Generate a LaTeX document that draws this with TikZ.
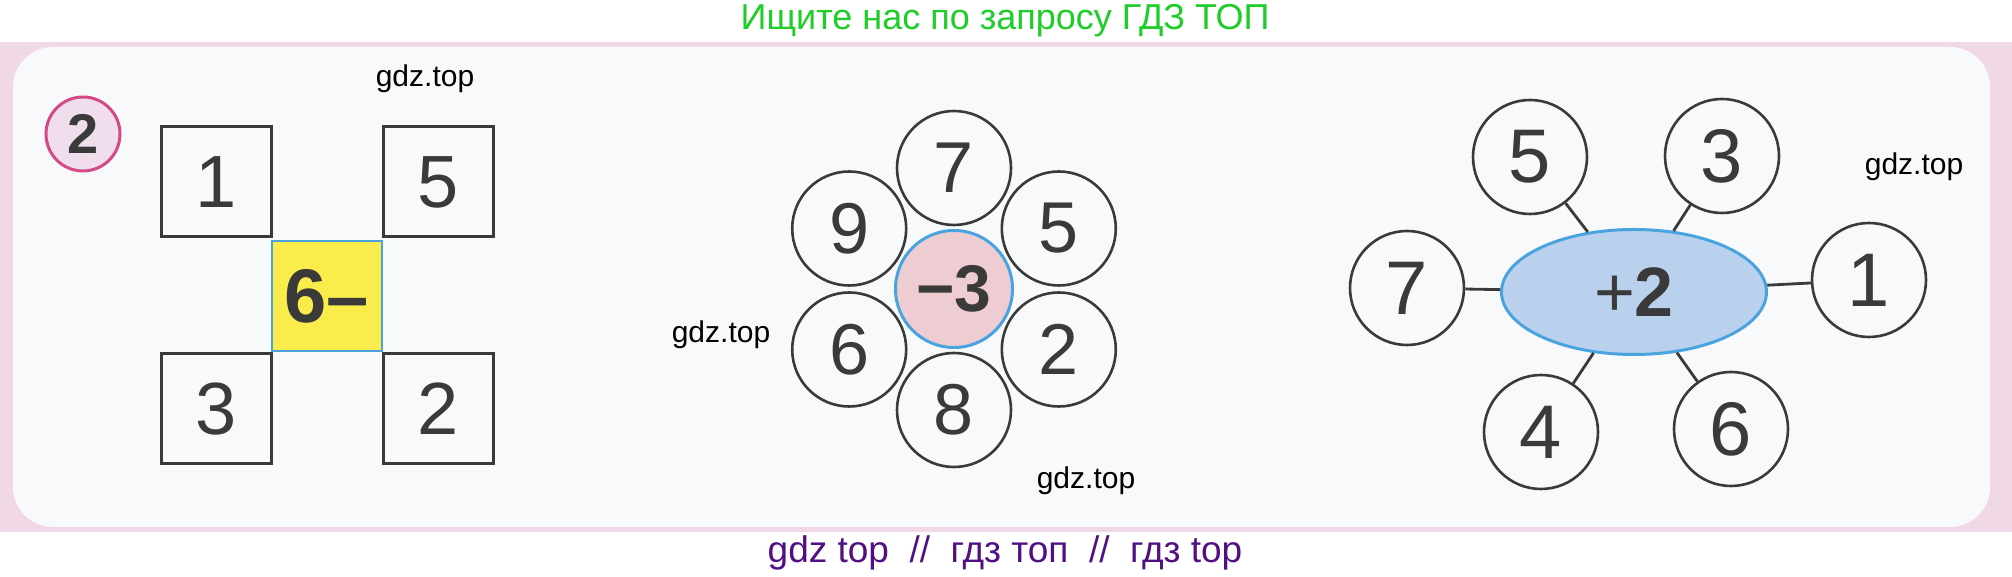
\documentclass[tikz,border=0pt]{standalone}
\usepackage{fontspec}
\setmainfont{Liberation Sans}
\usetikzlibrary{positioning,shapes.geometric}

\definecolor{inkgray}{RGB}{58,58,58}
\definecolor{framepink}{RGB}{241,216,231}
\definecolor{paper}{RGB}{247,249,251}
\definecolor{titlegreen}{RGB}{30,205,40}
\definecolor{footpurple}{RGB}{80,15,130}
\definecolor{edgeblue}{RGB}{74,163,223}
\definecolor{markpink}{RGB}{212,74,134}
\definecolor{markfill}{RGB}{240,222,236}
\definecolor{boxyellow}{RGB}{250,236,75}
\definecolor{centrepink}{RGB}{238,205,210}
\definecolor{ovalblue}{RGB}{186,209,238}

\tikzset{
  numbox/.style={draw=inkgray, line width=3pt, minimum size=110pt, inner sep=0pt, outer sep=0pt,
    text=inkgray, font=\fontsize{74}{74}\selectfont},
  petal/.style={circle, draw=inkgray, line width=2.6pt, minimum size=114pt, inner sep=0pt,
    text=inkgray, font=\fontsize{72}{72}\selectfont},
  ray/.style={inkgray, line width=2.8pt},
  wmark/.style={text=black, font=\fontsize{30}{30}\selectfont},
}

\begin{document}
\begin{tikzpicture}[x=1pt,y=1pt]
  \useasboundingbox (0,0) rectangle (2012,577);
  \fill[framepink] (0,45) rectangle (2012,535);
  \fill[paper, rounded corners=40pt] (13,50) rectangle (1990,530);

  \node[text=titlegreen, font=\fontsize{36}{36}\selectfont, anchor=base] (title) at (1005,547)
    {Ищите нас по запросу ГДЗ ТОП};
  \node[text=footpurple, font=\fontsize{37}{37}\selectfont, anchor=base] (foot) at (1005,14)
    {gdz top \ //\ \ гдз топ \ //\ \ гдз top};

  % squares
  \node[circle, draw=markpink, fill=markfill, line width=3pt, minimum size=74pt, inner sep=0pt,
    text=inkgray, font=\bfseries\fontsize{56}{56}\selectfont] (task) at (83,443) {2};
  \node[numbox, fill=boxyellow, draw=edgeblue, line width=2.5pt,
    font=\bfseries\fontsize{76}{76}\selectfont] (sub) at (327,281) {6–};
  \node[numbox, above left=4pt and 1pt of sub] (b1) {1};
  \node[numbox, above right=4pt and 1pt of sub] (b5) {5};
  \node[numbox, below left=3pt and 1pt of sub] (b3) {3};
  \node[numbox, below right=3pt and 1pt of sub] (b2) {2};

  % flower
  \node[circle, draw=edgeblue, fill=centrepink, line width=3pt, minimum size=117pt, inner sep=0pt,
    text=inkgray, font=\bfseries\fontsize{66}{66}\selectfont] (minus) at (954,288) {−3};
  \foreach \ang/\val in {90/7,30/5,330/2,270/8,210/6,150/9}
    \path (minus) ++(\ang:121) node[petal] (f\val) {\val};

  % oval
  \node[ellipse, draw=edgeblue, fill=ovalblue, line width=3pt, minimum width=265pt, minimum height=125pt,
    inner sep=0pt, text=inkgray, font=\fontsize{70}{70}\selectfont] (plus) at (1634,285) {+\textbf{2}};
  \foreach \x/\y/\val in {1530/420/5,1722/421/3,1407/289/7,1869/297/1,1541/145/4,1731/148/6}
    \node[petal, font=\fontsize{76}{76}\selectfont] (r\val) at (\x,\y) {\val};
  \foreach \val in {5,3,7,1,4,6}
    \draw[ray] (plus) -- (r\val);

  \node[wmark] (w1) at (425,498) {gdz.top};
  \node[wmark] (w2) at (1914,410) {gdz.top};
  \node[wmark] (w3) at (721,242) {gdz.top};
  \node[wmark] (w4) at (1086,96) {gdz.top};
\end{tikzpicture}
\end{document}
